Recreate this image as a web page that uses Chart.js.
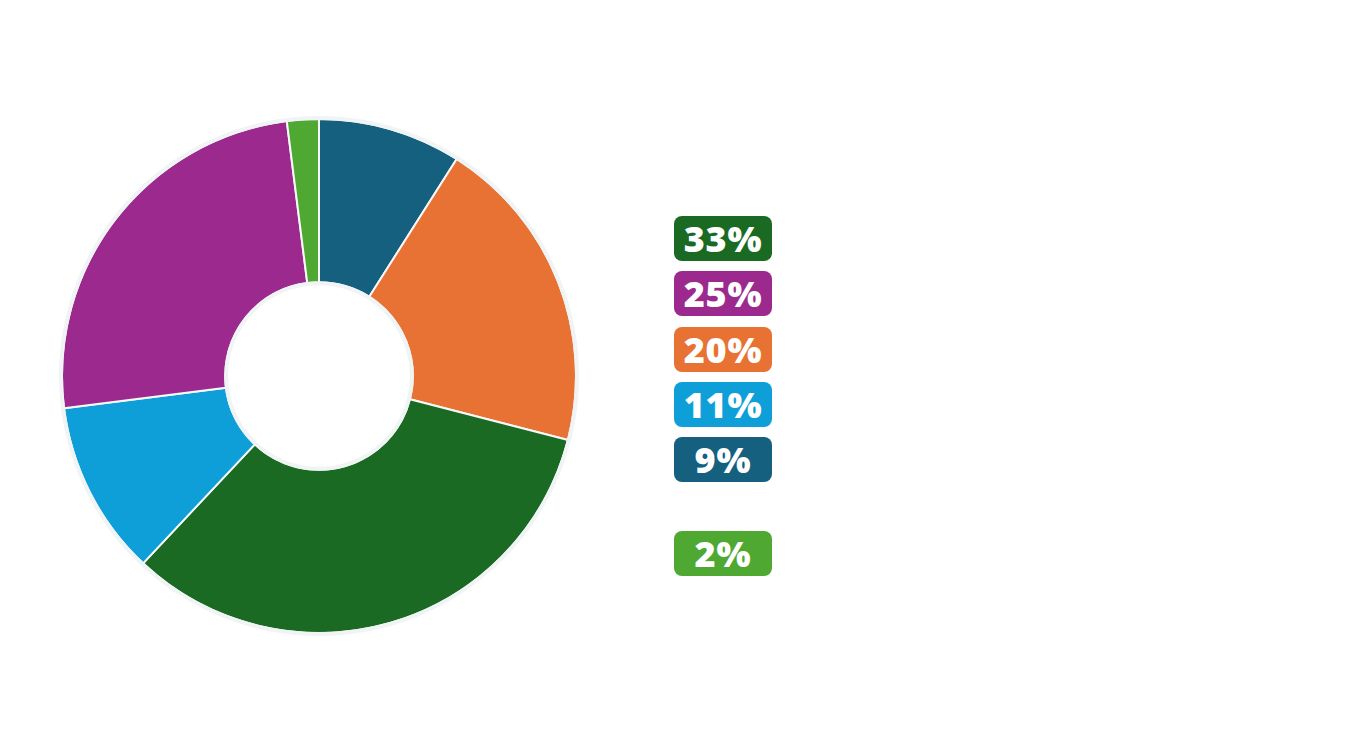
<!DOCTYPE html>
<html>
<head>
<meta charset="utf-8">
<script src="https://cdn.jsdelivr.net/npm/chart.js@4.4.1/dist/chart.umd.min.js"></script>
<style>
  html, body { margin: 0; padding: 0; background: #fff; }
  body { width: 1350px; height: 751px; position: relative; overflow: hidden; }
  #chartBox { position: absolute; left: 59px; top: 116px; width: 520px; height: 520px; }
  #legend { position: absolute; left: 674px; top: 216px; }
  .tag {
    width: 98px; height: 45px; border-radius: 8px; color: #fff;
    font-family: "Open Sans", sans-serif; font-weight: 800; font-size: 36px;
    letter-spacing: 0.8px; line-height: 46px; text-align: center; margin-bottom: 10.25px;
  }
</style>
</head>
<body>
<div id="chartBox"><canvas id="pie"></canvas></div>
<div id="legend"></div>
<script>
// slices, clockwise from 12 o'clock
const labels = ['A', 'B', 'C', 'D', 'E', 'F'];
const values = [9, 20, 33, 11, 25, 2];
const colors = ['#155f7f', '#e87233', '#1a6a23', '#0f9fd8', '#9c2a8e', '#4ea832'];

// legend order as shown on the right
const legendOrder = [2, 4, 1, 3, 0, 5];

// light ring around outer and inner edges
const ringPlugin = {
    id: 'ring',
    afterDatasetsDraw(chart) {
        const arc = chart.getDatasetMeta(0).data[0];
        if (!arc) return;
        const ctx = chart.ctx;
        ctx.save();
        ctx.strokeStyle = '#f0f4f5';
        ctx.lineWidth = 4;
        ctx.beginPath();
        ctx.arc(arc.x, arc.y, arc.outerRadius + 1, 0, Math.PI * 2);
        ctx.stroke();
        ctx.beginPath();
        ctx.arc(arc.x, arc.y, arc.innerRadius - 1, 0, Math.PI * 2);
        ctx.stroke();
        ctx.restore();
    }
};

function initChart() {
    const ctx = document.getElementById('pie').getContext('2d');
    new Chart(ctx, {
        type: 'doughnut',
        data: {
            labels: labels,
            datasets: [{
                data: values,
                backgroundColor: colors,
                borderColor: '#f6f8f9',
                borderWidth: 2
            }]
        },
        options: {
            responsive: true,
            maintainAspectRatio: false,
            animation: false,
            cutout: '36.5%',
            layout: { padding: 2 },
            plugins: {
                legend: { display: false },
                tooltip: { enabled: false }
            }
        },
        plugins: [ringPlugin]
    });
}

function buildLegend() {
    const box = document.getElementById('legend');
    legendOrder.forEach((i, n) => {
        const el = document.createElement('div');
        el.className = 'tag';
        el.style.background = colors[i];
        el.textContent = values[i] + '%';
        if (n === legendOrder.length - 1) el.style.marginTop = '49px';
        box.appendChild(el);
    });
}

document.addEventListener('DOMContentLoaded', function() {
    initChart();
    buildLegend();
});
</script>
</body>
</html>
